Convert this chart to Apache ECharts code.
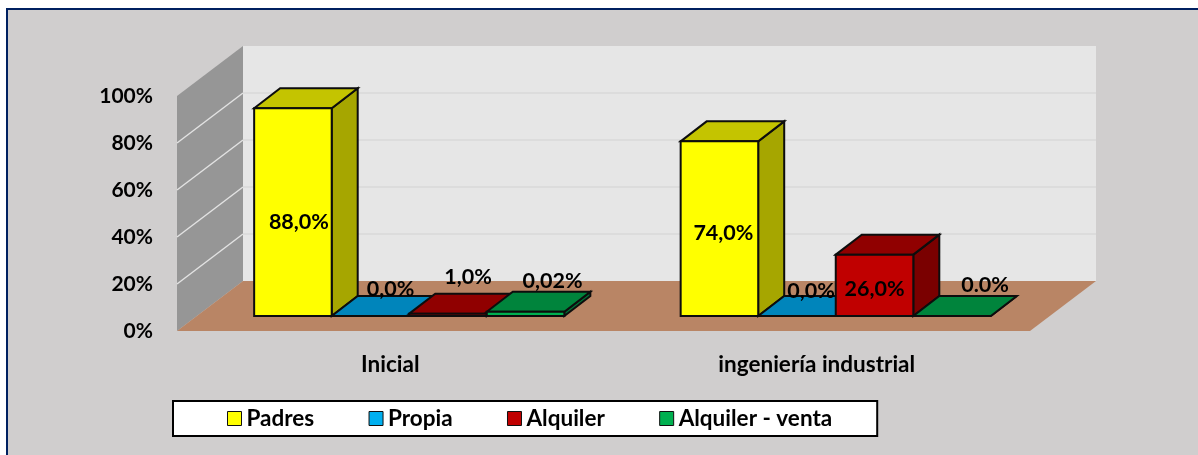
<!DOCTYPE html>
<html>
<head>
<meta charset="utf-8">
<title>Vivienda</title>
<style>
  html, body { margin: 0; padding: 0; background: #fff; }
  #main { width: 1198px; height: 455px; }
</style>
<script src="https://cdn.jsdelivr.net/npm/echarts@6/dist/echarts.min.js"></script>
</head>
<body>
<div id="main"></div>
<script>
var categories = ['Inicial', 'ingeniería industrial'];
var yTicks = [0, 20, 40, 60, 80, 100];

var padres = [88, 74];
var propia = [0, 0];
var alquiler = [1, 26];
var alquilerVenta = [1.8, 0];

var padresLabels = ['88,0%', '74,0%'];
var propiaLabels = ['0,0%', '0,0%'];
var alquilerLabels = ['1,0%', '26,0%'];
var alquilerVentaLabels = ['0,02%', '0.0%'];

var FONT = 'Lato, Carlito, Calibri, sans-serif';

// label nudges from the centre of each bar's front, moved by hand in the original
var nudges = {
  Padres: [[6, 10], [4, 4]],
  Propia: [[20, -27], [14, -25]],
  Alquiler: [[20, -38], [0, 4]],
  'Alquiler - venta': [[27, -33], [33, -31]]
};

var myChart = echarts.init(document.getElementById('main'));

function poly(points, fill, stroke, lineWidth) {
  return {
    type: 'polygon',
    shape: { points: points },
    style: { fill: fill, stroke: stroke || null, lineWidth: lineWidth || 0 }
  };
}

// floor and the two walls, hung on the front plane of grid 0
function renderWalls(params, api) {
  var dx = 66, dy = 50;
  var cs = params.coordSys;
  var x0 = cs.x, x1 = cs.x + cs.width;
  var yBottom = api.coord([0, 0])[1];
  var yTop = api.coord([0, 100])[1];
  var children = [
    poly([[x0 + dx, yTop - dy], [x1 + dx, yTop - dy], [x1 + dx, yBottom - dy], [x0 + dx, yBottom - dy]], '#e6e6e6'),
    poly([[x0, yTop], [x0 + dx, yTop - dy], [x0 + dx, yBottom - dy], [x0, yBottom]], '#969696'),
    poly([[x0, yBottom], [x0 + dx, yBottom - dy], [x1 + dx, yBottom - dy], [x1, yBottom]], '#b98565')
  ];
  yTicks.forEach(function (t) {
    if (t === 0 || t === 100) return;
    var y = api.coord([0, t])[1];
    children.push({
      type: 'line',
      shape: { x1: x0, y1: y, x2: x0 + dx, y2: y - dy },
      style: { stroke: '#e2e2e2', lineWidth: 1.5 }
    });
    children.push({
      type: 'line',
      shape: { x1: x0 + dx, y1: y - dy, x2: x1 + dx, y2: y - dy },
      style: { stroke: '#dcdcdc', lineWidth: 2 }
    });
  });
  return { type: 'group', children: children };
}

function barSeries(name, values, labels, pos, front, top, side) {
  return {
    name: name,
    type: 'custom',
    xAxisIndex: 1,
    yAxisIndex: 1,
    itemStyle: { color: front },
    data: values.map(function (v, i) { return [i, v]; }),
    encode: { x: 0, y: 1 },
    renderItem: function (params, api) {
      var idx = api.value(0);
      var dx = 26, dy = 20;
      var band = api.size([1, 0])[0];
      var w = band / 5.5;
      var c = api.coord([idx, 0]);
      var yTop = api.coord([idx, api.value(1)])[1];
      var l = c[0] + (pos - 2) * w;
      var r = l + w;
      var b = c[1];
      var nudge = nudges[name][idx];
      return {
        type: 'group',
        children: [
          poly([[r, yTop], [r + dx, yTop - dy], [r + dx, b - dy], [r, b]], side, '#0d0d0d', 2),
          poly([[l, yTop], [l + dx, yTop - dy], [r + dx, yTop - dy], [r, yTop]], top, '#0d0d0d', 2),
          poly([[l, yTop], [r, yTop], [r, b], [l, b]], front, '#0d0d0d', 2),
          {
            type: 'text',
            z2: 100,
            style: {
              x: (l + r) / 2 + nudge[0],
              y: (yTop + b) / 2 + nudge[1],
              text: labels[idx],
              font: 'bold 21.5px ' + FONT,
              fill: '#000',
              align: 'center',
              verticalAlign: 'middle'
            }
          }
        ]
      };
    }
  };
}

var option = {
  backgroundColor: '#ffffff',
  animation: false,
  graphic: [{
    type: 'rect',
    z: -10,
    shape: { x: 7, y: 9, width: 1200, height: 460 },
    style: { fill: '#d0cece', stroke: '#002060', lineWidth: 2 }
  }],
  legend: {
    data: ['Padres', 'Propia', 'Alquiler', 'Alquiler - venta'],
    left: 173,
    top: 401,
    padding: [6, 45, 6, 54],
    itemGap: 54.3,
    itemWidth: 14,
    itemHeight: 14,
    backgroundColor: '#fff',
    borderColor: '#000',
    borderWidth: 2,
    icon: 'rect',
    itemStyle: { borderColor: '#111', borderWidth: 1 },
    selectedMode: false,
    textStyle: { fontFamily: FONT, fontWeight: 'bold', fontSize: 22.5, color: '#000' }
  },
  grid: [
    { left: 177, top: 96, width: 853, height: 235 },
    { left: 196, top: 80, width: 853, height: 236 }
  ],
  xAxis: [
    {
      type: 'category', gridIndex: 0, data: categories,
      axisLine: { show: false }, axisTick: { show: false },
      axisLabel: { margin: 22, fontFamily: FONT, fontWeight: 'bold', fontSize: 22.5, color: '#000' }
    },
    {
      type: 'category', gridIndex: 1, data: categories,
      axisLine: { show: false }, axisTick: { show: false }, axisLabel: { show: false }
    }
  ],
  yAxis: [
    {
      type: 'value', gridIndex: 0, min: 0, max: 100, interval: 20,
      axisLine: { show: false }, axisTick: { show: false }, splitLine: { show: false },
      axisLabel: { margin: 24, padding: [10, 0, 0, 0], formatter: '{value}%', fontFamily: FONT, fontWeight: 'bold', fontSize: 21, color: '#000' }
    },
    {
      type: 'value', gridIndex: 1, min: 0, max: 100, interval: 20,
      axisLine: { show: false }, axisTick: { show: false }, splitLine: { show: false }, axisLabel: { show: false }
    }
  ],
  series: [
    {
      name: 'walls',
      type: 'custom',
      xAxisIndex: 0,
      yAxisIndex: 0,
      silent: true,
      data: [[0, 0]],
      renderItem: renderWalls
    },
    barSeries('Padres', padres, padresLabels, 0, '#ffff00', '#c4c400', '#a6a600'),
    barSeries('Propia', propia, propiaLabels, 1, '#00b0f0', '#0085bb', '#006e9c'),
    barSeries('Alquiler', alquiler, alquilerLabels, 2, '#c00000', '#900000', '#7a0000'),
    barSeries('Alquiler - venta', alquilerVenta, alquilerVentaLabels, 3, '#00b050', '#00843c', '#007035')
  ]
};

myChart.setOption(option);
</script>
</body>
</html>
